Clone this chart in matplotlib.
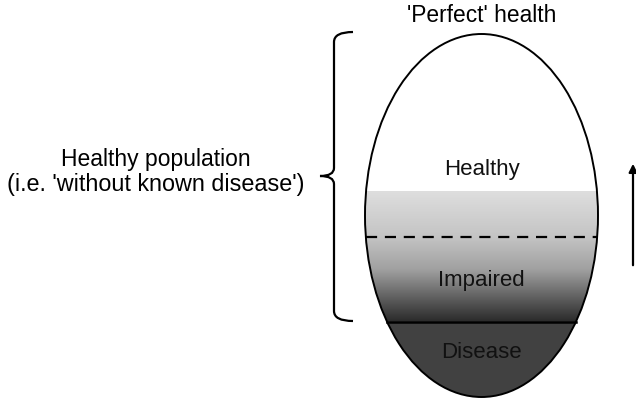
import numpy as np
import matplotlib.pyplot as plt
from matplotlib.patches import Ellipse, PathPatch
from matplotlib.path import Path
from matplotlib.colors import LinearSegmentedColormap

plt.rcParams["font.family"] = ["Liberation Sans", "DejaVu Sans"]

# levels down the egg (pixel rows)
egg_top, egg_bottom = 35, 398
gradient_top = 192
impaired_line = 238
disease_line = 323

region_labels = ["Healthy", "Impaired", "Disease"]
region_label_y = [170, 281, 353]
region_label_color = ["#111111", "#111111", "#111111"]

# gray stops of the shading, from gradient top to disease line
shade_pos = [0.0, 0.35, 0.6, 0.85, 1.0]
shade_gray = ["#dedede", "#c4c4c4", "#a0a0a0", "#555555", "#2a2a2a"]
disease_color = "#414141"

fig = plt.figure(figsize=(6.36, 4.02), dpi=100)
ax = fig.add_axes([0, 0, 1, 1])
ax.set_xlim(0, 636)
ax.set_ylim(402, 0)
ax.axis("off")

cx, cy = 481.5, (egg_top + egg_bottom) / 2
w, h = 233, egg_bottom - egg_top
a, b = w / 2, h / 2

clip = Ellipse((cx, cy), w, h, transform=ax.transData, facecolor="none", edgecolor="none")
ax.add_patch(clip)

cmap = LinearSegmentedColormap.from_list("shade", list(zip(shade_pos, shade_gray)))
grad = np.linspace(0, 1, 256).reshape(-1, 1)
im = ax.imshow(grad, cmap=cmap, aspect="auto",
               extent=[cx - a, cx + a, disease_line, gradient_top], zorder=1)
im.set_clip_path(clip)
dis = ax.fill_between([cx - a, cx + a], disease_line, egg_bottom, color=disease_color, zorder=1)
dis.set_clip_path(clip)

ax.add_patch(Ellipse((cx, cy), w, h, facecolor="none", edgecolor="black", lw=1.4, zorder=3))


def half_width(y):
    return a * np.sqrt(max(0.0, 1 - ((y - cy) / b) ** 2))


hw = half_width(impaired_line)
ax.plot([cx - hw, cx + hw], [impaired_line] * 2, color="black", lw=1.6,
        dashes=(5, 3.5), zorder=2)
hw = half_width(disease_line)
ax.plot([cx - hw, cx + hw], [disease_line] * 2, color="black", lw=1.8, zorder=2)

for lab, y, c in zip(region_labels, region_label_y, region_label_color):
    ax.text(cx, y, lab, ha="center", va="center", fontsize=16, color=c, zorder=4)

ax.text(cx, 16, "'Perfect' health", ha="center", va="center", fontsize=16.4)
ax.text(156, 160, "Healthy population", ha="center", va="center", fontsize=16.5)
ax.text(156, 185, "(i.e. 'without known disease')", ha="center", va="center", fontsize=16.8)

# curly brace
bx, top, bot, mid, tip = 334, 33, 322, 177, 320
verts = [(353, top), (bx, top), (bx, top + 10),
         (bx, mid - 8),
         (bx, mid), (tip, mid),
         (bx, mid), (bx, mid + 8),
         (bx, bot - 10),
         (bx, bot), (353, bot)]
codes = [Path.MOVETO, Path.CURVE3, Path.CURVE3,
         Path.LINETO,
         Path.CURVE3, Path.CURVE3,
         Path.CURVE3, Path.CURVE3,
         Path.LINETO,
         Path.CURVE3, Path.CURVE3]
ax.add_patch(PathPatch(Path(verts, codes), facecolor="none", edgecolor="black", lw=1.6))

ax.annotate("", xy=(633, 162), xytext=(633, 269),
            arrowprops=dict(arrowstyle="-|>", color="black", lw=1.6, mutation_scale=12))

fig.savefig("out.png", dpi=100)
